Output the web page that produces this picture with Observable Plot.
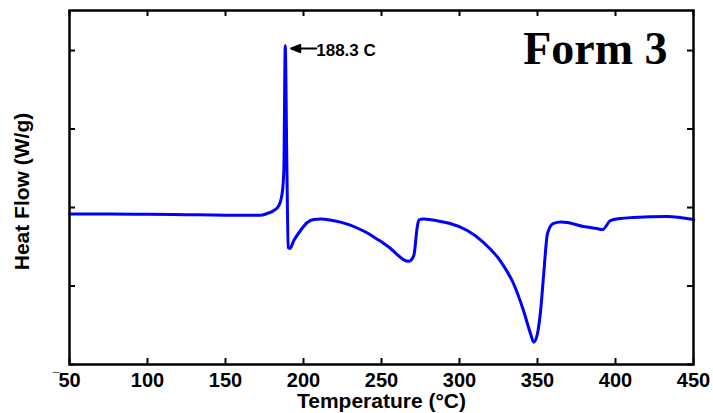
<!DOCTYPE html>
<html>
<head>
<meta charset="utf-8">
<script src="https://cdn.jsdelivr.net/npm/d3@7"></script>
<script src="https://cdn.jsdelivr.net/npm/@observablehq/plot@0.6"></script>
<style>
  html, body { margin: 0; padding: 0; background: #fff; }
</style>
</head>
<body>
<div id="chart"></div>
<script>
const temperature = [50, 75, 100, 125, 150, 172.4, 176.7, 181, 184.2, 186.3, 187.4, 188.3, 189.3, 190.2, 191.2, 193.8, 198.1, 202.4, 206.6, 211, 217, 223.7, 230, 236.5, 241.5, 247, 251.5, 255.8, 260, 264.3, 267.5, 270.7, 272.9, 274, 277, 287.8, 294, 305, 315.5, 326, 334.6, 341, 345.5, 347.6, 350, 352, 354, 356.4, 360, 365, 369, 379.5, 388, 391.7, 396.8, 403, 411.5, 433, 450];
const heatFlow = [1.917, 1.917, 1.913, 1.908, 1.903, 1.900, 1.924, 1.962, 2.025, 2.178, 2.471, 4.064, 2.6, 1.490, 1.478, 1.580, 1.707, 1.809, 1.847, 1.853, 1.841, 1.814, 1.776, 1.720, 1.669, 1.599, 1.541, 1.478, 1.401, 1.333, 1.315, 1.388, 1.749, 1.843, 1.853, 1.822, 1.796, 1.707, 1.554, 1.325, 1.032, 0.688, 0.395, 0.284, 0.395, 0.688, 1.159, 1.669, 1.796, 1.815, 1.809, 1.758, 1.732, 1.720, 1.834, 1.860, 1.873, 1.885, 1.847];
const xTicks = [50, 100, 150, 200, 250, 300, 350, 400, 450];
const yTicks = [0, 1, 2, 3, 4];
const peakLabel = ["188.3 C"];
const peakT = [188.3];
const peakHF = [4.064];
const formTitle = ["Form 3"];
const xTitle = ["Temperature (°C)"];
const yTitle = ["Heat Flow (W/g)"];

const data = temperature.map((t, i) => ({t, hf: heatFlow[i]}));
const peak = peakT.map((t, i) => ({t, hf: peakHF[i], label: peakLabel[i]}));

const W = 713, H = 413;
const mL = 69, mR = 20, mT = 10, mB = 49;
const fw = W - mL - mR, fh = H - mT - mB;
const tick = 6;

const arrowShape = {
  draw(context, l) {
    const g = 6;
    context.moveTo(0, -g);
    context.lineTo(-3.5, -g - 9);
    context.lineTo(3.5, -g - 9);
    context.closePath();
    context.moveTo(0, -g - 8);
    context.lineTo(0, -l);
  }
};

const chart = Plot.plot({
  width: W,
  height: H,
  marginLeft: mL,
  marginRight: mR,
  marginTop: mT,
  marginBottom: mB,
  style: {fontFamily: "'Liberation Sans', Arial, sans-serif", background: "#fff", color: "black"},
  x: {domain: [50, 450], ticks: xTicks},
  y: {domain: [0, 4.51], ticks: yTicks},
  marks: [
    Plot.axisX(xTicks, {tickSize: 0, tickPadding: 8, fontSize: 20, fontWeight: "bold", label: null, tickFormat: d => String(d)}),
    Plot.axisY({ticks: [], label: null}),
    Plot.text([xTicks[0]], {x: d => d, frameAnchor: "bottom", text: () => "¯", textAnchor: "end", dx: -10, dy: 9, fontSize: 12, fontWeight: "bold", lineAnchor: "top"}),
    Plot.tickX(xTicks, {x: d => d, insetTop: fh - tick, stroke: "black", strokeWidth: 2}),
    Plot.tickX(xTicks, {x: d => d, insetBottom: fh - tick, stroke: "black", strokeWidth: 2}),
    Plot.tickY(yTicks, {y: d => d, insetRight: fw - tick, stroke: "black", strokeWidth: 2}),
    Plot.tickY(yTicks, {y: d => d, insetLeft: fw - tick, stroke: "black", strokeWidth: 2}),
    Plot.line(data, {x: "t", y: "hf", stroke: "#0000ff", strokeWidth: 3, curve: "monotone-x"}),
    Plot.vector(peak, {x: "t", y: "hf", rotate: 90, length: 31, anchor: "start", shape: arrowShape, stroke: "black", fill: "black", strokeWidth: 2, dy: 3}),
    Plot.text(peak, {x: "t", y: "hf", text: "label", textAnchor: "start", lineAnchor: "middle", dx: 31, dy: 5, fontSize: 17, fontWeight: "bold"}),
    Plot.text(formTitle, {frameAnchor: "top-right", text: d => d, textAnchor: "end", lineAnchor: "bottom", dx: -26, dy: 53, fontSize: 46, fontWeight: "bold", fontFamily: "'Liberation Serif', 'Times New Roman', serif"}),
    Plot.text(xTitle, {frameAnchor: "bottom", text: d => d, textAnchor: "middle", lineAnchor: "bottom", dy: 43, fontSize: 21, fontWeight: "bold"}),
    Plot.text(yTitle, {frameAnchor: "left", text: d => d, textAnchor: "middle", rotate: -90, lineAnchor: "middle", dx: -47, dy: 4, fontSize: 21, fontWeight: "bold"}),
    Plot.frame({stroke: "black", strokeWidth: 2.5})
  ]
});
document.getElementById("chart").appendChild(chart);
</script>
</body>
</html>
